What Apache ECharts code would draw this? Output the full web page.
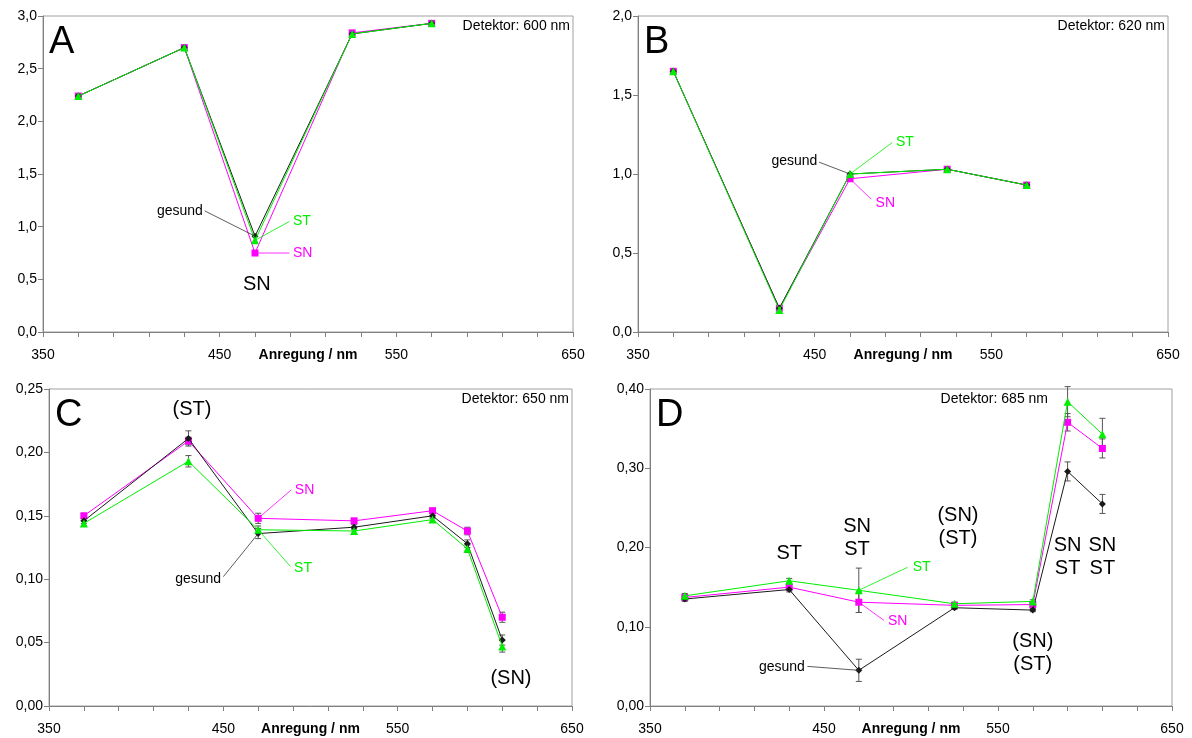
<!DOCTYPE html>
<html><head><meta charset="utf-8">
<script src="https://cdn.jsdelivr.net/npm/echarts@6.0.0/dist/echarts.min.js"></script>
<style>html,body{margin:0;padding:0;background:#fff}#c{width:1192px;height:738px}</style>
</head><body><div id="c"></div>
<script>
// ---------- DATA ----------
const xA = [370, 430, 470, 525, 570];
const A_gesund = [2.24, 2.70, 0.91, 2.83, 2.93];
const A_SN     = [2.24, 2.70, 0.75, 2.84, 2.93];
const A_ST     = [2.24, 2.70, 0.87, 2.83, 2.93];

const xB = [370, 430, 470, 525, 570];
const B_gesund = [1.65, 0.15, 1.00, 1.03, 0.93];
const B_SN     = [1.65, 0.15, 0.97, 1.03, 0.93];
const B_ST     = [1.65, 0.14, 1.00, 1.03, 0.93];

const xC = [370, 430, 470, 525, 570, 590, 610];
const C_gesund = [0.146, 0.211, 0.136, 0.141, 0.150, 0.128, 0.052];
const C_SN     = [0.150, 0.209, 0.148, 0.146, 0.154, 0.138, 0.070];
const C_ST     = [0.144, 0.193, 0.139, 0.138, 0.147, 0.124, 0.047];
const C_gesund_err = [0.002, 0.006, 0.004, 0.002, 0.002, 0.003, 0.004];
const C_SN_err     = [0.002, 0.003, 0.004, 0.002, 0.002, 0.003, 0.004];
const C_ST_err     = [0.002, 0.0045, 0.003, 0.002, 0.002, 0.003, 0.0045];

const xD = [370, 430, 470, 525, 570, 590, 610];
const D_gesund = [0.135, 0.147, 0.045, 0.124, 0.121, 0.296, 0.255];
const D_SN     = [0.137, 0.150, 0.131, 0.127, 0.128, 0.358, 0.325];
const D_ST     = [0.139, 0.158, 0.146, 0.129, 0.132, 0.384, 0.343];
const D_gesund_err = [0.003, 0.003, 0.014, 0.002, 0.002, 0.012, 0.012];
const D_SN_err     = [0.003, 0.003, 0.013, 0.002, 0.002, 0.011, 0.012];
const D_ST_err     = [0.003, 0.003, 0.028, 0.002, 0.002, 0.019, 0.020];

const yMaxes = [3.0, 2.0, 0.25, 0.40];
const yIntervals = [0.5, 0.5, 0.05, 0.10];
const yDecimals = [1, 1, 2, 2];
const xTickLabels = [350, 450, 550, 650];
const panelLetters = ['A', 'B', 'C', 'D'];
const detektorTexts = ['Detektor: 600 nm', 'Detektor: 620 nm', 'Detektor: 650 nm', 'Detektor: 685 nm'];
const xName = 'Anregung / nm';

// ---------- STYLE ----------
const FONT = '"Liberation Sans", Arial, sans-serif';
const COL = {gesund: '#1a1a1a', SN: '#ff00ff', ST: '#00ee00'};
const grids = [
  {left: 43, right: 619, top: 16, bottom: 406},
  {left: 638, right: 24, top: 16, bottom: 406},
  {left: 49, right: 620, top: 389, bottom: 32},
  {left: 650, right: 20, top: 389, bottom: 32}
];

const panels = [
  {x: xA, g: A_gesund, sn: A_SN, st: A_ST},
  {x: xB, g: B_gesund, sn: B_SN, st: B_ST},
  {x: xC, g: C_gesund, sn: C_SN, st: C_ST, ge: C_gesund_err, sne: C_SN_err, ste: C_ST_err},
  {x: xD, g: D_gesund, sn: D_SN, st: D_ST, ge: D_gesund_err, sne: D_SN_err, ste: D_ST_err}
];

const xAxes = [], yAxes = [], series = [];
grids.forEach((g, i) => {
  g.show = true; g.borderColor = '#a0a0a0'; g.borderWidth = 1; g.containLabel = false;
  xAxes.push({
    type: 'value', gridIndex: i, min: 350, max: 650, interval: 20,
    name: xName, nameLocation: 'middle', nameGap: 16, nameMoveOverlap: false,
    nameTextStyle: {fontFamily: FONT, fontSize: 14, fontWeight: 'bold', color: '#000', verticalAlign: 'top'},
    axisLine: {lineStyle: {color: '#808080'}},
    axisTick: {show: true, length: 5, lineStyle: {color: '#808080'}},
    splitLine: {show: false},
    axisLabel: {fontFamily: FONT, fontSize: 14, color: '#000', margin: 16,
      showMinLabel: true, showMaxLabel: true,
      formatter: v => xTickLabels.indexOf(Math.round(v)) >= 0 ? String(Math.round(v)) : ''}
  });
  yAxes.push({
    type: 'value', gridIndex: i, min: 0, max: yMaxes[i], interval: yIntervals[i],
    axisLine: {show: true, lineStyle: {color: '#808080'}},
    axisTick: {show: true, length: 5, lineStyle: {color: '#808080'}},
    splitLine: {show: false},
    axisLabel: {fontFamily: FONT, fontSize: 14, color: '#000', margin: 6,
      formatter: v => v.toFixed(yDecimals[i]).replace('.', ',')}
  });
  const p = panels[i];
  const mk = (name, ys, sym, size, color, z) => ({
    type: 'line', name, xAxisIndex: i, yAxisIndex: i, z,
    data: p.x.map((x, k) => [x, ys[k]]),
    symbol: sym, symbolSize: size, showSymbol: true,
    lineStyle: {width: 1, color}, itemStyle: {color}, animation: false
  });
  const mkErr = (ys, es, z) => ({
    type: 'custom', xAxisIndex: i, yAxisIndex: i, z,
    data: p.x.map((x, k) => [x, ys[k], es[k]]),
    renderItem: (params, api) => {
      const x = api.value(0), y = api.value(1), e = api.value(2);
      const top = api.coord([x, y + e]), bot = api.coord([x, y - e]);
      const st = {stroke: '#555', lineWidth: 1};
      return {type: 'group', children: [
        {type: 'line', shape: {x1: top[0], y1: top[1], x2: bot[0], y2: bot[1]}, style: st},
        {type: 'line', shape: {x1: top[0] - 3, y1: top[1], x2: top[0] + 3, y2: top[1]}, style: st},
        {type: 'line', shape: {x1: bot[0] - 3, y1: bot[1], x2: bot[0] + 3, y2: bot[1]}, style: st}
      ]};
    }, animation: false
  });
  if (p.ge) {
    series.push(mkErr(p.sn, p.sne, 1), mkErr(p.g, p.ge, 1), mkErr(p.st, p.ste, 1));
  }
  series.push(mk('SN', p.sn, 'rect', 7, COL.SN, 2));
  series.push(mk('gesund', p.g, 'diamond', 7, COL.gesund, 3));
  series.push(mk('ST', p.st, 'triangle', 8, COL.ST, 4));
});

// annotations in data coordinates
const annotations = [
  // A
  {p: 0, lead: [[470, 0.91], [441.5, 1.15]], color: '#333'},
  {p: 0, text: 'gesund', at: [440.5, 1.15], align: 'right', size: 14, color: '#000'},
  {p: 0, lead: [[470, 0.87], [489.5, 1.05]], color: COL.ST},
  {p: 0, text: 'ST', at: [491.5, 1.05], align: 'left', size: 14, color: COL.ST},
  {p: 0, lead: [[470, 0.75], [489.5, 0.75]], color: COL.SN},
  {p: 0, text: 'SN', at: [491.5, 0.75], align: 'left', size: 14, color: COL.SN},
  {p: 0, text: 'SN', at: [471, 0.45], align: 'center', size: 20, color: '#000'},
  // B
  {p: 1, lead: [[470, 1.0], [452.5, 1.075]], color: '#333'},
  {p: 1, text: 'gesund', at: [451.5, 1.083], align: 'right', size: 14, color: '#000'},
  {p: 1, lead: [[470, 1.0], [494, 1.20]], color: COL.ST},
  {p: 1, text: 'ST', at: [496, 1.20], align: 'left', size: 14, color: COL.ST},
  {p: 1, lead: [[470, 0.97], [482, 0.84]], color: COL.SN},
  {p: 1, text: 'SN', at: [484.5, 0.817], align: 'left', size: 14, color: COL.SN},
  // C
  {p: 2, text: '(ST)', at: [432, 0.2336], align: 'center', size: 20, color: '#000'},
  {p: 2, lead: [[470, 0.136], [450, 0.102]], color: '#333'},
  {p: 2, text: 'gesund', at: [448.7, 0.100], align: 'right', size: 14, color: '#000'},
  {p: 2, lead: [[470, 0.148], [489, 0.1705]], color: COL.SN},
  {p: 2, text: 'SN', at: [491, 0.170], align: 'left', size: 14, color: COL.SN},
  {p: 2, lead: [[470, 0.139], [488.5, 0.110]], color: COL.ST},
  {p: 2, text: 'ST', at: [490.6, 0.109], align: 'left', size: 14, color: COL.ST},
  {p: 2, text: '(SN)', at: [615, 0.022], align: 'center', size: 20, color: '#000'},
  // D
  {p: 3, text: 'ST', at: [430, 0.193], align: 'center', size: 20, color: '#000'},
  {p: 3, text: 'SN\nST', at: [469, 0.2115], align: 'center', size: 20, color: '#000'},
  {p: 3, text: '(SN)\n(ST)', at: [527, 0.2255], align: 'center', size: 20, color: '#000'},
  {p: 3, text: 'SN\nST', at: [590, 0.1885], align: 'center', size: 20, color: '#000'},
  {p: 3, text: 'SN\nST', at: [610, 0.1885], align: 'center', size: 20, color: '#000'},
  {p: 3, text: '(SN)\n(ST)', at: [570, 0.0673], align: 'center', size: 20, color: '#000'},
  {p: 3, lead: [[470, 0.045], [440.5, 0.050]], color: '#333'},
  {p: 3, text: 'gesund', at: [439, 0.0494], align: 'right', size: 14, color: '#000'},
  {p: 3, lead: [[470, 0.146], [498, 0.175]], color: COL.ST},
  {p: 3, text: 'ST', at: [501, 0.1747], align: 'left', size: 14, color: COL.ST},
  {p: 3, lead: [[470, 0.131], [484.5, 0.108]], color: COL.SN},
  {p: 3, text: 'SN', at: [486.8, 0.107], align: 'left', size: 14, color: COL.SN}
];

const chart = echarts.init(document.getElementById('c'), null, {renderer: 'canvas'});
chart.setOption({
  backgroundColor: '#fff', animation: false,
  grid: grids, xAxis: xAxes, yAxis: yAxes, series
});

const graphic = [];
const W = 1192, H = 738;
grids.forEach((g, i) => {
  const gx = g.left, gy = g.top, gr = W - g.right;
  graphic.push({type: 'text', x: gx + 6, y: gy + 27, z: 10,
    style: {text: panelLetters[i], font: '38px ' + FONT, fill: '#000', textAlign: 'left', textVerticalAlign: 'middle'}});
  const dRight = (i === 3) ? gr - 124 : gr - 3;
  graphic.push({type: 'text', x: dRight, y: gy + 10, z: 10,
    style: {text: detektorTexts[i], font: '14px ' + FONT, fill: '#000', textAlign: 'right', textVerticalAlign: 'middle'}});
});
annotations.forEach(a => {
  const f = {xAxisIndex: a.p, yAxisIndex: a.p};
  if (a.lead) {
    const p1 = chart.convertToPixel(f, a.lead[0]);
    const p2 = chart.convertToPixel(f, a.lead[1]);
    graphic.push({type: 'line', z: 10, shape: {x1: p1[0], y1: p1[1], x2: p2[0], y2: p2[1]},
      style: {stroke: a.color, lineWidth: 0.8}});
  } else {
    const p = chart.convertToPixel(f, a.at);
    graphic.push({type: 'text', x: p[0], y: p[1], z: 10,
      style: {text: a.text, font: a.size + 'px ' + FONT, fill: a.color, textAlign: a.align,
        textVerticalAlign: 'middle', lineHeight: a.size + 3}});
  }
});
chart.setOption({graphic});
</script>
</body></html>
